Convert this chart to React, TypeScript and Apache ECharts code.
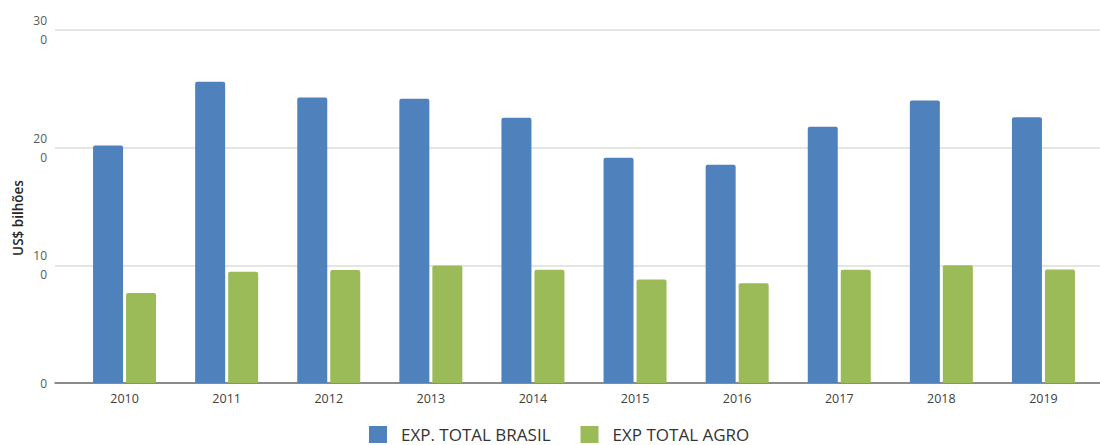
import React, { useEffect, useRef } from "react";
import * as echarts from "echarts";

const years = ["2010", "2011", "2012", "2013", "2014", "2015", "2016", "2017", "2018", "2019"];
const expTotalBrasil = [201.9, 256.0, 242.6, 241.5, 225.4, 191.5, 185.5, 217.7, 240.0, 225.8];
const expTotalAgro = [76.4, 94.6, 96.0, 99.8, 96.2, 88.0, 84.8, 96.2, 100.0, 96.4];
const yTickValues = [0, 100, 200, 300];
const yTickLabels = ["0", "10\n0", "20\n0", "30\n0"];
const yAxisTitle = "US$ bilhões";

const FONT = "'Open Sans', 'Noto Sans', sans-serif";

export default function App() {
  const ref = useRef<HTMLDivElement>(null);
  useEffect(() => {
    if (!ref.current) return;
    const chart = echarts.init(ref.current, undefined, { renderer: "svg" });
    chart.setOption({
      animation: false,
      backgroundColor: "#ffffff",
      textStyle: { fontFamily: FONT },
      legend: {
        left: 369,
        top: 426,
        padding: 0,
        itemWidth: 18,
        itemHeight: 17,
        itemGap: 30,
        icon: "rect",
        textStyle: {
          fontSize: 17,
          lineHeight: 17,
          color: "#333333",
          fontFamily: FONT,
          padding: [0, 0, 0, 9],
        },
        data: ["EXP. TOTAL BRASIL", "EXP TOTAL AGRO"],
      },
      graphic: [
        {
          type: "text",
          x: 18,
          y: 218,
          rotation: Math.PI / 2,
          style: {
            text: yAxisTitle,
            align: "center",
            verticalAlign: "middle",
            fontSize: 13.5,
            fontWeight: 600,
            fill: "#262626",
            fontFamily: FONT,
          },
        },
      ],
      grid: [
        { left: 55, right: 0, top: 30, bottom: 62 },
        { left: 73.5, width: 1021, top: 30, bottom: 62 },
      ],
      xAxis: [
        {
          type: "category",
          gridIndex: 0,
          data: [""],
          axisLine: { show: true, lineStyle: { color: "#6e6e6e", width: 1.5 } },
          axisTick: { show: false },
          axisLabel: { show: false },
        },
        {
          type: "category",
          gridIndex: 1,
          data: years,
          axisLine: { show: false },
          axisTick: { show: false },
          axisLabel: { color: "#404040", fontSize: 12.5, margin: 9, fontFamily: FONT },
        },
      ],
      yAxis: [
        {
          type: "value",
          gridIndex: 0,
          min: 0,
          max: 300,
          interval: 100,
          axisLine: { show: false },
          axisTick: { show: false },
          axisLabel: {
            color: "#595959",
            fontSize: 12,
            margin: 8,
            lineHeight: 19,
            fontFamily: FONT,
            formatter: (v: number) => {
              const i = yTickValues.indexOf(v);
              return i >= 0 ? yTickLabels[i] : "";
            },
          },
          splitLine: { show: true, lineStyle: { color: "#dcdcdc", width: 1.5 } },
        },
        {
          type: "value",
          gridIndex: 1,
          min: 0,
          max: 300,
          interval: 100,
          show: false,
          splitLine: { show: false },
        },
      ],
      series: [
        {
          name: "EXP. TOTAL BRASIL",
          type: "bar",
          xAxisIndex: 1,
          yAxisIndex: 1,
          data: expTotalBrasil,
          barWidth: 30,
          barGap: "10%",
          itemStyle: { color: "#4F81BD", borderRadius: [2, 2, 0, 0] },
        },
        {
          name: "EXP TOTAL AGRO",
          type: "bar",
          xAxisIndex: 1,
          yAxisIndex: 1,
          data: expTotalAgro,
          barWidth: 30,
          barGap: "10%",
          itemStyle: { color: "#9BBB59", borderRadius: [2, 2, 0, 0] },
        },
      ],
    });
    return () => chart.dispose();
  }, []);
  return (
    <div
      ref={ref}
      style={{ position: "fixed", left: 0, top: 0, width: 1100, height: 445, background: "#fff" }}
    />
  );
}
